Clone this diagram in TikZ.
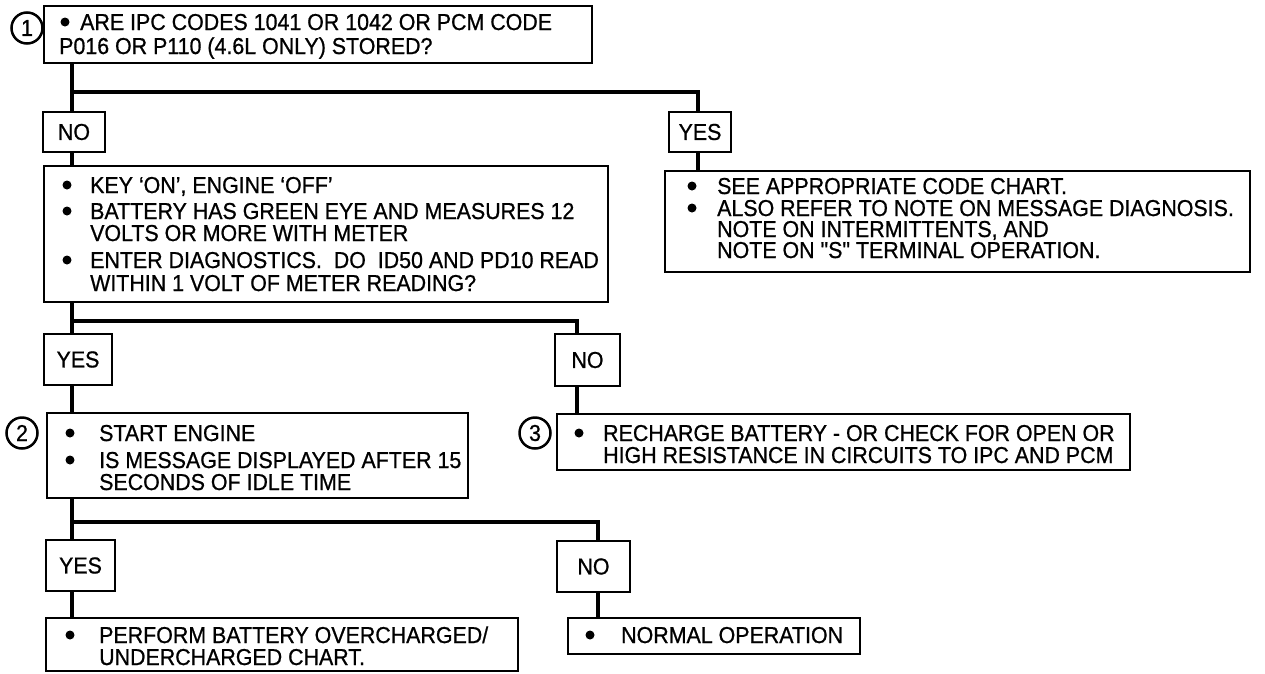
\documentclass[tikz,border=0pt]{standalone}
\usepackage{fontspec}
\newfontfamily\mf{Liberation Sans}[FakeBold=0.8, FakeStretch=0.93]
\newcommand\fs{\mf\fontsize{23}{22}\selectfont}
\begin{document}
\begin{tikzpicture}[x=1pt,y=-1pt,
  box/.style={draw, line width=2.5pt, inner sep=0pt, outer sep=0pt, anchor=north west},
  lbl/.style={font=\fs, inner sep=0pt},
  txt/.style={font=\fs, inner sep=0pt, anchor=base west},
  dot/.style={circle, fill=black, inner sep=0pt, minimum size=9pt},
  num/.style={draw, circle, line width=2.5pt, minimum size=31pt, inner sep=0pt, font=\fs, fill=white},
  conn/.style={line width=3.4pt}]
\useasboundingbox (0,0) rectangle (1265,673);
% ---- boxes ----
\node[box, minimum width=548pt, minimum height=57pt] (b1) at (44,6) {};
\node[box, minimum width=62pt, minimum height=40pt] (no1) at (43,112) {};
\node[box, minimum width=62pt, minimum height=40pt] (yes1) at (669,112) {};
\node[box, minimum width=564pt, minimum height=136pt] (key) at (44,166) {};
\node[box, minimum width=585pt, minimum height=101pt] (see) at (665,171) {};
\node[box, minimum width=68pt, minimum height=51pt] (yes2) at (44,334) {};
\node[box, minimum width=65pt, minimum height=52pt] (no2) at (555,334) {};
\node[box, minimum width=421pt, minimum height=85pt] (b2) at (47,413) {};
\node[box, minimum width=573pt, minimum height=56pt] (b3) at (557,414) {};
\node[box, minimum width=69pt, minimum height=51pt] (yes3) at (46,540) {};
\node[box, minimum width=73pt, minimum height=51pt] (no3) at (557,541) {};
\node[box, minimum width=472pt, minimum height=53pt] (perf) at (46,618) {};
\node[box, minimum width=292pt, minimum height=36pt] (norm) at (568,618) {};
% ---- numbers ----
\node[num] (c1) at (27,28) {1};
\node[num] (c2) at (22,433) {2};
\node[num] (c3) at (535,433) {3};
% ---- labels ----
\node[lbl] (tno1) at (no1.center) {NO};
\node[lbl] (tyes1) at (yes1.center) {YES};
\node[lbl] (tyes2) at (yes2.center) {YES};
\node[lbl] (tno2) at (no2.center) {NO};
\node[lbl] (tyes3) at (yes3.center) {YES};
\node[lbl] (tno3) at (no3.center) {NO};
% ---- bullets ----
\node[dot] (t1b) at (65,22) {};
\node[dot] (k1b) at (67,185) {};
\node[dot] (k2b) at (67,211) {};
\node[dot] (k4b) at (67,260) {};
\node[dot] (s1b) at (692,186) {};
\node[dot] (s2b) at (692,208) {};
\node[dot] (e1b) at (70,433) {};
\node[dot] (e2b) at (70,460) {};
\node[dot] (r1b) at (579,433) {};
\node[dot] (p1b) at (70,635) {};
\node[dot] (n1b) at (590,635) {};
% ---- texts ----
\node[txt] (t1a) at (80,30) {ARE IPC CODES 1041 OR 1042 OR PCM CODE};
\node[txt] (t1c) at (59,54) {P016 OR P110 (4.6L ONLY) STORED?};
\node[txt] (k1) at (90,193) {KEY ‘ON’, ENGINE ‘OFF’};
\node[txt] (k2) at (90,219) {BATTERY HAS GREEN EYE AND MEASURES 12};
\node[txt] (k3) at (90,241) {VOLTS OR MORE WITH METER};
\node[txt] (k4) at (90,268) {ENTER DIAGNOSTICS.\ \ DO\ \ ID50 AND PD10 READ};
\node[txt] (k5) at (90,291) {WITHIN 1 VOLT OF METER READING?};
\node[txt] (s1) at (717,194) {SEE APPROPRIATE CODE CHART.};
\node[txt] (s2) at (717,216) {ALSO REFER TO NOTE ON MESSAGE DIAGNOSIS.};
\node[txt] (s3) at (717,237) {NOTE ON INTERMITTENTS, AND};
\node[txt] (s4) at (717,258) {NOTE ON "S" TERMINAL OPERATION.};
\node[txt] (e1) at (99,441) {START ENGINE};
\node[txt] (e2) at (99,468) {IS MESSAGE DISPLAYED AFTER 15};
\node[txt] (e3) at (99,490) {SECONDS OF IDLE TIME};
\node[txt] (r1) at (603,441) {RECHARGE BATTERY - OR CHECK FOR OPEN OR};
\node[txt] (r2) at (603,463) {HIGH RESISTANCE IN CIRCUITS TO IPC AND PCM};
\node[txt] (p1) at (99,643) {PERFORM BATTERY OVERCHARGED/};
\node[txt] (p2) at (99,665) {UNDERCHARGED CHART.};
\node[txt] (n1) at (621,643) {NORMAL OPERATION};
% ---- connectors ----
\coordinate (j1) at (72,92);
\coordinate (j1r) at (698,92);
\draw[conn] (b1.south -| j1) -- (no1.north -| j1);
\draw[conn] (j1) -- (j1r) -- (yes1.north -| j1r);
\draw[conn] (no1.south -| j1) -- (key.north -| j1);
\draw[conn] (yes1.south -| j1r) -- (see.north -| j1r);
\coordinate (j2) at (72,321);
\coordinate (j2r) at (577,321);
\draw[conn] (key.south -| j2) -- (yes2.north -| j2);
\draw[conn] (j2) -- (j2r) -- (no2.north -| j2r);
\draw[conn] (yes2.south -| j2) -- (b2.north -| j2);
\draw[conn] (no2.south -| j2r) -- (b3.north -| j2r);
\coordinate (j3) at (72,522);
\coordinate (j3r) at (598,522);
\draw[conn] (b2.south -| j3) -- (yes3.north -| j3);
\draw[conn] (j3) -- (j3r) -- (no3.north -| j3r);
\draw[conn] (yes3.south -| j3) -- (perf.north -| j3);
\draw[conn] (no3.south -| j3r) -- (norm.north -| j3r);
\end{tikzpicture}
\end{document}
